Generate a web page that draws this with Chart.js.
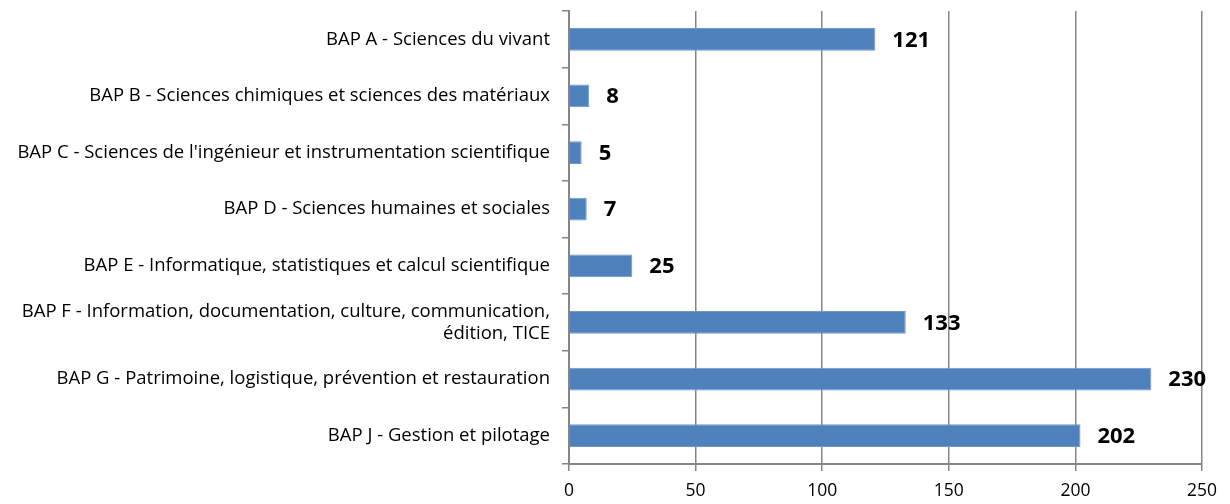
<!DOCTYPE html>
<html>
<head>
<meta charset="utf-8">
<script src="https://cdn.jsdelivr.net/npm/chart.js@4/dist/chart.umd.min.js"></script>
<style>
    html, body { margin: 0; padding: 0; background: #fff; }
    #wrap { width: 1230px; height: 504px; }
</style>
</head>
<body>
<div id="wrap"><canvas id="bapChart" width="1230" height="504"></canvas></div>
<script>
// Effectifs par BAP
const categories = [
    "BAP A - Sciences du vivant",
    "BAP B - Sciences chimiques et sciences des matériaux",
    "BAP C - Sciences de l'ingénieur et instrumentation scientifique",
    "BAP D - Sciences humaines et sociales",
    "BAP E - Informatique, statistiques et calcul scientifique",
    ["BAP F - Information, documentation, culture, communication,", "édition, TICE"],
    "BAP G - Patrimoine, logistique, prévention et restauration",
    "BAP J - Gestion et pilotage"
];
const effectifs = [121, 8, 5, 7, 25, 133, 230, 202];
const xTicks = [0, 50, 100, 150, 200, 250];

const axisGrey = '#868686';
const labelFont = '"Open Sans", Lato, sans-serif';

// Valeurs en gras à droite de chaque barre
const valueLabels = {
    id: 'valueLabels',
    afterDatasetsDraw(chart) {
        const ctx = chart.ctx;
        const meta = chart.getDatasetMeta(0);
        ctx.save();
        ctx.font = 'bold 22px ' + labelFont;
        ctx.fillStyle = '#000';
        ctx.textBaseline = 'middle';
        ctx.textAlign = 'left';
        meta.data.forEach((bar, i) => {
            ctx.fillText(String(effectifs[i]), bar.x + 17, bar.y + 1);
        });
        ctx.restore();
    }
};

new Chart(document.getElementById('bapChart').getContext('2d'), {
    type: 'bar',
    data: {
        labels: categories,
        datasets: [{
            data: effectifs,
            backgroundColor: '#4F81BD',
            borderColor: '#6f97c8',
            borderWidth: 1,
            categoryPercentage: 0.4,
            barPercentage: 1.0
        }]
    },
    options: {
        indexAxis: 'y',
        responsive: false,
        animation: false,
        layout: { padding: { top: 11, right: 28, bottom: 0, left: 0 } },
        plugins: {
            legend: { display: false },
            tooltip: { enabled: false }
        },
        scales: {
            x: {
                min: 0,
                max: 250,
                afterBuildTicks(scale) {
                    scale.ticks = xTicks.map(v => ({ value: v }));
                },
                afterFit(scale) { scale.height = 40; },
                grid: {
                    color: axisGrey,
                    lineWidth: 1.5,
                    tickLength: 7,
                    drawTicks: true
                },
                border: { color: axisGrey, width: 2 },
                ticks: {
                    color: '#000',
                    padding: 10,
                    font: { family: labelFont, size: 17.5 }
                }
            },
            y: {
                offset: true,
                afterFit(scale) {
                    scale.width = 569;
                    scale.paddingTop = 0;
                    scale.paddingBottom = 0;
                },
                grid: {
                    offset: true,
                    drawOnChartArea: false,
                    color: axisGrey,
                    lineWidth: 1.5,
                    tickLength: 7
                },
                border: { color: axisGrey, width: 2 },
                ticks: {
                    color: '#000',
                    padding: 12,
                    font: { family: labelFont, size: 18.5, lineHeight: 1.2 }
                }
            }
        }
    },
    plugins: [valueLabels]
});
</script>
</body>
</html>
